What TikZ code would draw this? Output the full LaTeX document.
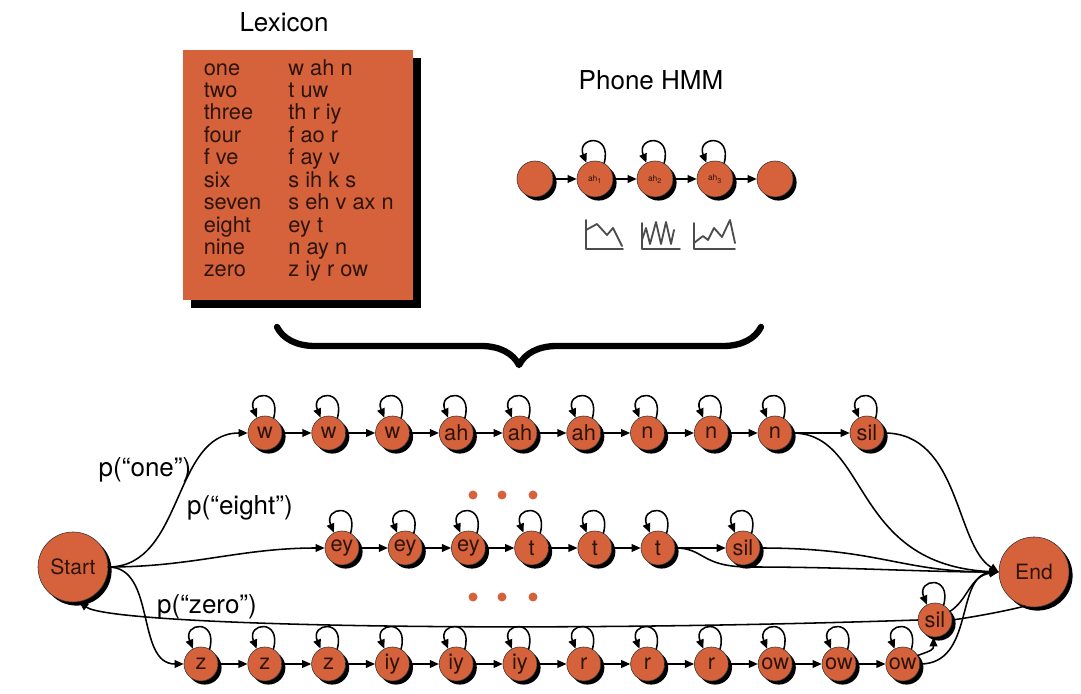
\documentclass[tikz,border=0pt]{standalone}
\usepackage{fontspec}
\setmainfont{TeX Gyre Heros}
\usetikzlibrary{arrows.meta,shadows,decorations.pathreplacing}
\definecolor{hmm}{RGB}{214,98,60}
\definecolor{ink}{RGB}{45,20,12}
\tikzset{
  st/.style={circle,draw=black!80,line width=0.4pt,fill=hmm,minimum size=0.85cm,inner sep=0pt,text=ink,
    font=\fontsize{15.5}{15.5}\selectfont,general shadow={fill=black,shadow xshift=0.09cm,shadow yshift=-0.09cm}},
  bigst/.style={st,minimum size=1.75cm,font=\fontsize{15}{15}\selectfont},
  phst/.style={st,minimum size=0.9cm,font=\fontsize{6}{6}\selectfont},
  selfloop/.style={to path={(\tikztostart.60) .. controls +(75:0.8cm) and +(112:0.7cm) .. (\tikztostart.118)}},
  lbl/.style={font=\fontsize{18.5}{20}\selectfont},
  glyph/.style={line width=1.3pt,black!70},
}
\begin{document}
\begin{tikzpicture}[x=0.025cm,y=0.025cm,>={Triangle[length=6.5pt,width=5.5pt]},line join=round,line cap=round,line width=1.1pt]
\useasboundingbox (0,0) rectangle (1081,-694);
\def\dx{63.75} % khoang cach
% Lexicon
\node[lbl] (lextitle) at (284,-22) {Lexicon};
\node[fill=hmm,minimum width=5.75cm,minimum height=6.25cm,inner sep=0pt,
  general shadow={fill=black,shadow xshift=0.2cm,shadow yshift=-0.2cm}] (lex) at (298,-175) {};
\node[anchor=west,inner sep=0pt,text=ink,font=\fontsize{15.5}{15.6}\selectfont] (lexwords) at (203,-171)
  {\begin{tabular}{@{}p{60.2pt}@{}l@{}}
   one & w ah n\\ two & t uw\\ three & th r iy\\ four & f ao r\\ f ve & f ay v\\
   six & s ih k s\\ seven & s eh v ax n\\ eight & ey t\\ nine & n ay n\\ zero & z iy r ow
   \end{tabular}};
% Phone HMM
\node[lbl] (phtitle) at (651,-80) {Phone HMM};
\node[phst] (ph0) at (535,-179) {};
\foreach \i in {1,2,3}
  \node[phst] (ph\i) at ({535+60*\i},-179) {ah\textsubscript{\i}};
\node[phst] (ph4) at (775,-179) {};
\foreach \i in {1,...,4} {\pgfmathtruncatemacro\k{\i-1} \draw[->] (ph\k) -- (ph\i);}
\foreach \i in {1,2,3} \draw[->] (ph\i) to[selfloop] (ph\i);
\draw[glyph] (586,-220) -- (586,-249) -- (623,-249);
\draw[glyph] (586,-230) -- (597,-224) -- (607,-235) -- (613,-228) -- (622,-246);
\draw[glyph] (642,-223) -- (642,-249) -- (680,-249);
\draw[glyph] (642,-240) -- (646,-228) -- (650,-244) -- (656,-222) -- (661,-244) -- (666,-222) -- (671,-244) -- (674,-230);
\draw[glyph] (694,-223) -- (694,-249) -- (735,-249);
\draw[glyph] (694,-243) -- (703,-236) -- (708,-240) -- (714,-228) -- (722,-237) -- (730,-220) -- (735,-243);
% brace
\draw[decorate,decoration={brace,mirror,amplitude=0.95cm},line width=4.5pt] (277,-327) -- (761,-327);
% word network
\node[bigst] (Start) at (73,-567) {Start};
\node[bigst] (End) at (1034,-572) {End};
\foreach \p [count=\i] in {w,w,w,ah,ah,ah,n,n,n}
  \node[st] (a\i) at ({265+\dx*(\i-1)},-433) {\p};
\node[st] (sil1) at (867,-433) {sil};
\foreach \p [count=\i] in {ey,ey,ey,t,t,t}
  \node[st] (b\i) at ({342+63.2*(\i-1)},-548) {\p};
\node[st] (sil2) at (743,-548) {sil};
\foreach \p [count=\i] in {z,z,z,iy,iy,iy,r,r,r,ow,ow,ow}
  \node[st] (c\i) at ({201+63.8*(\i-1)},-664) {\p};
\node[st] (sil3) at (935,-620) {sil};
\foreach \x in {473,502,533} {
  \fill[hmm] (\x,-495) circle (4.5);
  \fill[hmm] (\x,-597) circle (4.5);
}
\foreach \i in {2,...,9} {\pgfmathtruncatemacro\k{\i-1} \draw[->] (a\k) -- (a\i);}
\foreach \i in {2,...,6} {\pgfmathtruncatemacro\k{\i-1} \draw[->] (b\k) -- (b\i);}
\foreach \i in {2,...,12} {\pgfmathtruncatemacro\k{\i-1} \draw[->] (c\k) -- (c\i);}
\foreach \i in {1,...,9} \draw[->] (a\i) to[selfloop] (a\i);
\foreach \i in {1,...,6} \draw[->] (b\i) to[selfloop] (b\i);
\foreach \i in {1,...,12} \draw[->] (c\i) to[selfloop] (c\i);
\foreach \n in {sil1,sil2,sil3} \draw[->] (\n) to[selfloop] (\n);
\draw[->] (a9) -- (sil1);
\draw[->] (b6) -- (sil2);
\draw[->] (c12.30) .. controls +(15,5) and +(0,-12) .. (sil3.-95);
% from Start
\draw[->] (Start) to[out=0,in=180] (a1);
\draw[->] (Start) to[out=0,in=180] (b1);
\draw[->] (Start) to[out=0,in=180] (c1);
\node[lbl] (lone) at (145,-470) {p(“one”)};
\node[lbl] (leight) at (240,-508) {p(“eight”)};
\node[lbl] (lzero) at (207,-607) {p(“zero”)};
% to End
\coordinate (tdip) at (750,-567);
\draw[->] (sil1.east) .. controls (960,-433) and (955,-545) .. (End.west);
\draw[->] (a9.east) .. controls (870,-433) and (850,-565) .. (End.west);
\draw[->] (sil2.east) .. controls (880,-548) and (900,-572) .. (End.west);
\draw[->] (b6.east) .. controls (705,-548) and (700,-567) .. (tdip) .. controls (850,-567) and (920,-572) .. (End.west);
\draw[->] (c12.east) .. controls (975,-664) and (955,-575) .. (End.west);
\draw[->] (sil3.30) .. controls (968,-600) and (970,-576) .. (End.west);
% back to Start
\draw (End.-105) .. controls (1010,-610) and (980,-616) .. (sil3.east);
\draw[->] (sil3.west) .. controls (500,-634) and (110,-625) .. (Start.-80);
\end{tikzpicture}
\end{document}
